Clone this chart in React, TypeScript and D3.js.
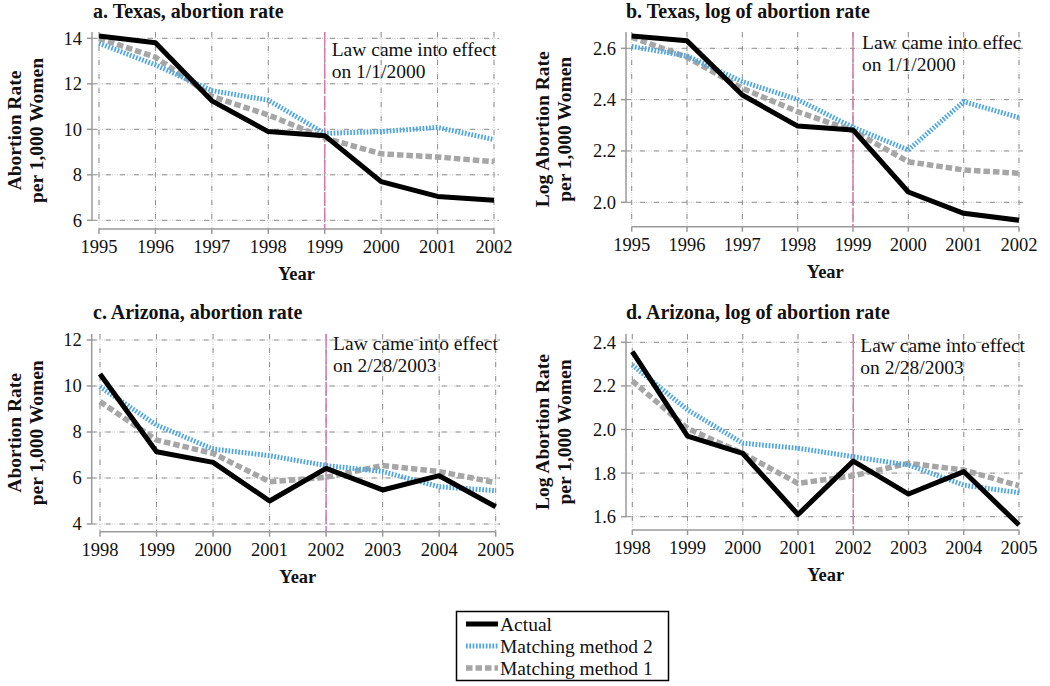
import React from "react";
import * as d3 from "d3";

// ---------- data ----------
const yearsTX = [1995, 1996, 1997, 1998, 1999, 2000, 2001, 2002];
const yearsAZ = [1998, 1999, 2000, 2001, 2002, 2003, 2004, 2005];

const txRateActual = [14.1, 13.8, 11.25, 9.9, 9.72, 7.7, 7.05, 6.88];
const txRateM2 = [13.78, 12.83, 11.7, 11.28, 9.82, 9.9, 10.08, 9.55];
const txRateM1 = [14.0, 13.17, 11.45, 10.63, 9.62, 8.92, 8.78, 8.58];

const txLogActual = [2.648, 2.629, 2.418, 2.297, 2.282, 2.04, 1.957, 1.93];
const txLogM2 = [2.607, 2.57, 2.47, 2.4, 2.292, 2.204, 2.392, 2.33];
const txLogM1 = [2.643, 2.565, 2.444, 2.353, 2.278, 2.158, 2.126, 2.113];

const azRateActual = [10.52, 7.14, 6.68, 5.0, 6.42, 5.48, 6.1, 4.75];
const azRateM2 = [9.97, 8.3, 7.26, 6.97, 6.54, 6.28, 5.62, 5.45];
const azRateM1 = [9.32, 7.65, 7.07, 5.84, 6.03, 6.54, 6.28, 5.8];

const azLogActual = [2.357, 1.97, 1.89, 1.61, 1.855, 1.704, 1.807, 1.562];
const azLogM2 = [2.296, 2.09, 1.937, 1.914, 1.875, 1.837, 1.745, 1.71];
const azLogM1 = [2.223, 2.005, 1.89, 1.753, 1.788, 1.845, 1.814, 1.742];

const rateTicksTX = [6, 8, 10, 12, 14];
const logTicksTX = [2.0, 2.2, 2.4, 2.6];
const rateTicksAZ = [4, 6, 8, 10, 12];
const logTicksAZ = [1.6, 1.8, 2.0, 2.2, 2.4];

const seriesNames = ["Actual", "Matching method 2", "Matching method 1"];

// ---------- style ----------
const FONT = "\"Liberation Serif\"";
const C_ACTUAL = "#000000";
const C_M2 = "#4ea6e2";
const C_M1 = "#a6a6a6";
const C_LAW = "#d67aaa";

type Panel = {
  title: string;
  years: number[];
  actual: number[];
  m2: number[];
  m1: number[];
  ticks: number[];
  fmt: (v: number) => string;
  lawYear: number;
  lawText: string[];
  yLabel: string[];
  x0: number; x1: number; right: number;
  tLo: number; tHi: number; pLo: number; pHi: number;
  axisY: number; top: number; yAxisX: number;
  titleX: number; titleY: number;
  yLabX: number[];
  lawDx: number;
  lawY: number[];
};

const panels: Panel[] = [
  {
    title: "a. Texas, abortion rate", years: yearsTX,
    actual: txRateActual, m2: txRateM2, m1: txRateM1,
    ticks: rateTicksTX, fmt: (v) => d3.format("d")(v),
    lawYear: 1999, lawText: ["Law came into effect", "on 1/1/2000"],
    yLabel: ["Abortion Rate", "per 1,000 Women"],
    x0: 99, x1: 494, right: 499, tLo: 6, tHi: 14, pLo: 220.3, pHi: 38.3,
    axisY: 229, top: 32, yAxisX: 92, titleX: 93, titleY: 18,
    yLabX: [21, 43], lawDx: 7, lawY: [56, 78],
  },
  {
    title: "b. Texas, log of abortion rate", years: yearsTX,
    actual: txLogActual, m2: txLogM2, m1: txLogM1,
    ticks: logTicksTX, fmt: (v) => d3.format(".1f")(v),
    lawYear: 1999, lawText: ["Law came into effec", "on 1/1/2000"],
    yLabel: ["Log Abortion Rate", "per 1,000 Women"],
    x0: 631.7, x1: 1019, right: 1023, tLo: 2.0, tHi: 2.6, pLo: 202.3, pHi: 48.3,
    axisY: 226.7, top: 32, yAxisX: 626, titleX: 626, titleY: 18,
    yLabX: [549, 571], lawDx: 9, lawY: [49, 71],
  },
  {
    title: "c. Arizona, abortion rate", years: yearsAZ,
    actual: azRateActual, m2: azRateM2, m1: azRateM1,
    ticks: rateTicksAZ, fmt: (v) => d3.format("d")(v),
    lawYear: 2002, lawText: ["Law came into effect", "on 2/28/2003"],
    yLabel: ["Abortion Rate", "per 1,000 Women"],
    x0: 100, x1: 495.7, right: 500, tLo: 4, tHi: 12, pLo: 524, pHi: 340,
    axisY: 531.7, top: 334, yAxisX: 91.7, titleX: 93, titleY: 319,
    yLabX: [21, 43], lawDx: 7, lawY: [350, 372],
  },
  {
    title: "d. Arizona, log of abortion rate", years: yearsAZ,
    actual: azLogActual, m2: azLogM2, m1: azLogM1,
    ticks: logTicksAZ, fmt: (v) => d3.format(".1f")(v),
    lawYear: 2002, lawText: ["Law came into effect", "on 2/28/2003"],
    yLabel: ["Log Abortion Rate", "per 1,000 Women"],
    x0: 632.3, x1: 1019, right: 1023, tLo: 1.6, tHi: 2.4, pLo: 516.7, pHi: 342.3,
    axisY: 530, top: 334, yAxisX: 626, titleX: 626, titleY: 319,
    yLabX: [549, 571], lawDx: 7, lawY: [352, 374],
  },
];

const T = { fontFamily: FONT } as React.CSSProperties;

function GridLine(props: { x1: number; y1: number; x2: number; y2: number }) {
  return (
    <g>
      <line {...props} stroke="#c4c4c4" strokeWidth={1} strokeDasharray="1,1.5" />
      <line {...props} stroke="#8f8f8f" strokeWidth={1} strokeDasharray="5,9" />
    </g>
  );
}

function PanelView({ p }: { p: Panel }) {
  const x = d3.scaleLinear().domain([p.years[0], p.years[p.years.length - 1]]).range([p.x0, p.x1]);
  const y = d3.scaleLinear().domain([p.tLo, p.tHi]).range([p.pLo, p.pHi]);
  const line = (vals: number[]) =>
    d3.line<number>().x((_, i) => x(p.years[i])).y((v) => y(v))(vals) || "";
  const minTick = d3.min(p.ticks) as number;
  const lx = x(p.lawYear);
  const yc = (p.top + p.axisY) / 2;
  return (
    <g>
      <text style={T} x={p.titleX} y={p.titleY} fontSize={20} fontWeight="bold" fill="#111">{p.title}</text>
      {p.ticks.map((t) => (
        <GridLine key={"h" + t} x1={p.yAxisX} y1={y(t)} x2={p.right} y2={y(t)} />
      ))}
      {p.years.map((yr) => (
        <GridLine key={"v" + yr} x1={x(yr)} y1={p.top} x2={x(yr)} y2={p.axisY} />
      ))}
      <line x1={p.yAxisX} y1={p.top} x2={p.yAxisX} y2={y(minTick)} stroke="#9a9a9a" strokeWidth={1.5} />
      {p.ticks.map((t) => (
        <g key={"yt" + t}>
          <line x1={p.yAxisX - 5} y1={y(t)} x2={p.yAxisX} y2={y(t)} stroke="#9a9a9a" strokeWidth={1.5} />
          <text style={T} x={p.yAxisX - 10} y={y(t)} dy="0.35em" textAnchor="end" fontSize={18.5} fill="#111">{p.fmt(t)}</text>
        </g>
      ))}
      <line x1={p.x0} y1={p.axisY} x2={p.x1} y2={p.axisY} stroke="#9a9a9a" strokeWidth={1.5} />
      {p.years.map((yr) => (
        <g key={"xt" + yr}>
          <line x1={x(yr)} y1={p.axisY} x2={x(yr)} y2={p.axisY + 5} stroke="#9a9a9a" strokeWidth={1.5} />
          <text style={T} x={x(yr)} y={p.axisY + 24} textAnchor="middle" fontSize={18.5} fill="#111">{yr}</text>
        </g>
      ))}
      <text style={T} x={(p.x0 + p.x1) / 2} y={p.axisY + 51} textAnchor="middle" fontSize={18.5} fontWeight="bold" fill="#111">Year</text>
      {p.yLabel.map((s, i) => (
        <text style={T} key={s} transform={`translate(${p.yLabX[i]},${yc}) rotate(-90)`} textAnchor="middle" fontSize={19.5} fontWeight="bold" fill="#111">{s}</text>
      ))}
      <line x1={lx} y1={p.top} x2={lx} y2={p.axisY} stroke={C_LAW} strokeWidth={1.5} strokeDasharray="14,2" />
      {p.lawText.map((s, i) => (
        <text style={T} key={s} x={lx + p.lawDx} y={p.lawY[i]} fontSize={19.5} fill="#111">{s}</text>
      ))}
      <path d={line(p.m1)} fill="none" stroke={C_M1} strokeWidth={5.5} strokeDasharray="6.5,3" />
      <path d={line(p.m2)} fill="none" stroke={C_M2} strokeWidth={5} strokeDasharray="1.7,1.6" />
      <path d={line(p.actual)} fill="none" stroke={C_ACTUAL} strokeWidth={5} strokeLinejoin="round" />
    </g>
  );
}

export default function App() {
  const legendStyles = [
    { color: C_ACTUAL, dash: undefined as string | undefined, w: 5 },
    { color: C_M2, dash: "1.7,1.6", w: 5 },
    { color: C_M1, dash: "6.5,3", w: 5.5 },
  ];
  const legendRows = [624, 646, 668];
  return (
    <svg width={1050} height={686} style={{ position: "absolute", left: 0, top: 0, background: "#fff", fontFamily: FONT }}>
      <rect x={0} y={0} width={1050} height={686} fill="#fff" />
      {panels.map((p) => (
        <PanelView key={p.title} p={p} />
      ))}
      <g>
        <rect x={456.5} y={611.5} width={212} height={69} fill="#fff" stroke="#000" strokeWidth={1.5} />
        {seriesNames.map((n, i) => (
          <g key={n}>
            <line x1={466} y1={legendRows[i]} x2={498} y2={legendRows[i]} stroke={legendStyles[i].color} strokeWidth={legendStyles[i].w} strokeDasharray={legendStyles[i].dash} />
            <text style={T} x={500} y={legendRows[i]} dy="0.35em" fontSize={19.5} fill="#111">{n}</text>
          </g>
        ))}
      </g>
    </svg>
  );
}
